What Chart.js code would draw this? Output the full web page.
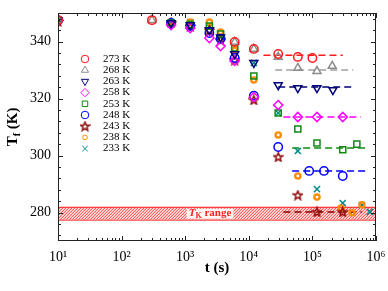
<!DOCTYPE html>
<html>
<head>
<meta charset="utf-8">
<script src="https://cdn.jsdelivr.net/npm/chart.js@4.4.0/dist/chart.umd.min.js"></script>
<style>
  html, body { margin: 0; padding: 0; background: #fff; }
  #wrap { width: 388px; height: 291px; }
</style>
</head>
<body>
<div id="wrap"><canvas id="c"></canvas></div>
<script>
/* Tf vs t — quench series with plateau lines and TK band. */
const seriesLabels = ["273 K", "268 K", "263 K", "258 K", "253 K", "248 K", "243 K", "238 K", "233 K"];

const t273 = [10, 300, 6000, 12000, 29000, 59000, 100000];
const f273 = [347.5, 347.5, 339.8, 337.4, 335.6, 334.6, 334.2];
const t268 = [10, 300, 6000, 12000, 29000, 59000, 118000, 205000];
const f268 = [347.5, 347.5, 339.8, 337.4, 334.6, 330.7, 329.6, 331.4];
const t263 = [10, 600, 1200, 2400, 3600, 6000, 12000, 29000, 59000, 118000, 210000];
const f263 = [347.5, 346.5, 345.8, 344, 341.5, 335.6, 332.5, 324.7, 323.7, 323.7, 323];
const t258 = [10, 600, 1200, 2400, 3600, 6000, 12000, 29000, 59000, 118000, 300000];
const f258 = [347.5, 345.8, 344.7, 341.2, 338.4, 333.2, 320.5, 317.7, 313.5, 313.5, 313.5];
const t253 = [10, 600, 1200, 2400, 3600, 6000, 12000, 29000, 59000, 118000, 300000, 500000];
const f253 = [347.5, 346.5, 346, 345.4, 342.6, 337.7, 327.9, 314.9, 309.3, 304.4, 302, 304];
const t248 = [10, 600, 1200, 2400, 3600, 6000, 12000, 29000, 89000, 152000, 300000];
const f248 = [347.5, 346.5, 345.5, 343, 341, 334.2, 321, 303, 294.6, 294.6, 292.8];
const t243 = [10, 600, 1200, 2400, 3600, 6000, 12000, 29000, 59000, 118000, 300000];
const f243 = [347, 346.5, 345.3, 344, 340.5, 333.5, 319.5, 299.5, 286.1, 280.2, 280.2];
const t238 = [10, 600, 1200, 2400, 3600, 6000, 12000, 29000, 59000, 118000, 282000, 420000, 600000];
const f238 = [347.5, 346.8, 346.8, 346.8, 343.3, 337, 326.5, 307.2, 292.8, 285.4, 281.6, 279.9, 282.7];
const t233 = [10, 600, 1200, 2400, 3600, 6000, 12000, 29000, 59000, 118000, 300000, 600000, 800000];
const f233 = [347.5, 346.5, 346.8, 345.2, 341.9, 336.3, 332.5, 314.9, 301.6, 288.2, 283.3, 282.6, 280.2];

// plateau (dashed) lines for the first seven series
const plateauTf    = [335.2, 330, 324, 313.5, 302.6, 294.6, 280.2];
const plateauStart = [17000, 26000, 29000, 35000, 48000, 48000, 35000];
const plateauEnd   = [300000, 440000, 470000, 580000, 740000, 760000, 600000];

const bandLow = 277.5, bandHigh = 282;
const yTicks = [280, 300, 320, 340];
const xDecades = [1, 2, 3, 4, 5, 6];

const SERIF = "'Liberation Serif', 'Times New Roman', serif";
const colors = ["#ff1a1a", "#8c8c8c", "#00007a", "#ff00ff", "#118a11", "#0000ff", "#8b0000", "#ff8c00", "#008b8b"];

function starImage(color) {
  const c = document.createElement("canvas");
  c.width = 11; c.height = 11;
  const g = c.getContext("2d");
  g.strokeStyle = color; g.lineWidth = 1.4;
  g.beginPath();
  for (let i = 0; i < 10; i++) {
    const r = i % 2 ? 2.0 : 4.6;
    const a = -Math.PI / 2 + i * Math.PI / 5;
    const x = 5.5 + r * Math.cos(a), y = 5.9 + r * Math.sin(a);
    i ? g.lineTo(x, y) : g.moveTo(x, y);
  }
  g.closePath(); g.stroke();
  return c;
}

const styles = [
  { pointStyle: "circle",   radius: 4.2, rotation: 0 },
  { pointStyle: "triangle", radius: 4.6, rotation: 0 },
  { pointStyle: "triangle", radius: 4.6, rotation: 180 },
  { pointStyle: "rectRot",  radius: 4.6, rotation: 0 },
  { pointStyle: "rect",     radius: 4.3, rotation: 0 },
  { pointStyle: "circle",   radius: 4.2, rotation: 0 },
  { pointStyle: starImage(colors[6]), radius: 5, rotation: 0 },
  { pointStyle: "circle",   radius: 2.6, rotation: 0 },
  { pointStyle: "crossRot", radius: 4.3, rotation: 0 }
];

const tArr = [t273, t268, t263, t258, t253, t248, t243, t238, t233];
const fArr = [f273, f268, f263, f258, f253, f248, f243, f238, f233];

const datasets = [];
seriesLabels.forEach((lab, i) => {
  datasets.push({
    label: lab,
    data: tArr[i].map((t, k) => ({ x: t, y: fArr[i][k] })),
    showLine: false,
    borderColor: colors[i],
    backgroundColor: "rgba(0,0,0,0)",
    pointStyle: styles[i].pointStyle,
    pointRadius: styles[i].radius,
    pointRotation: styles[i].rotation,
    pointBorderWidth: i === 7 ? 2.4 : 1.5,
    order: 1
  });
});
plateauTf.forEach((v, i) => {
  datasets.push({
    label: "plateau " + seriesLabels[i],
    data: [{ x: plateauStart[i], y: v }, { x: plateauEnd[i], y: v }],
    showLine: true,
    borderColor: i === 1 ? "#a0a0a0" : colors[i],
    borderWidth: 1.5,
    borderDash: [7, 4],
    pointRadius: 0,
    order: 2
  });
});

const decor = {
  id: "decor",
  beforeDatasetsDraw(chart) {
    const { ctx, chartArea: a, scales: { y } } = chart;
    const yt = y.getPixelForValue(bandHigh), yb = y.getPixelForValue(bandLow);
    ctx.save();
    ctx.fillStyle = "rgba(255,120,120,0.25)";
    ctx.fillRect(a.left, yt, a.right - a.left, yb - yt);
    ctx.beginPath();
    ctx.rect(a.left, yt, a.right - a.left, yb - yt);
    ctx.clip();
    ctx.strokeStyle = "#ff3030"; ctx.lineWidth = 0.9;
    ctx.beginPath();
    const h = yb - yt;
    for (let x0 = a.left - h; x0 < a.right + h; x0 += 3) {
      ctx.moveTo(x0, yb); ctx.lineTo(x0 + h, yt);
    }
    ctx.stroke();
    ctx.restore();
    ctx.save();
    ctx.strokeStyle = "#ff2020"; ctx.lineWidth = 1;
    ctx.strokeRect(a.left + 0.5, yt + 0.5, a.right - a.left - 1, h);
    // band label
    const cx = 210, cy = (yt + yb) / 2;
    ctx.font = "italic bold 11px " + SERIF;
    const wT = ctx.measureText("T").width;
    ctx.font = "bold 8px " + SERIF;
    const wK = ctx.measureText("K").width;
    ctx.font = "bold 11px " + SERIF;
    const wR = ctx.measureText(" range").width;
    const w = wT + wK + wR;
    ctx.fillStyle = "rgba(255,255,255,0.9)";
    ctx.fillRect(cx - w / 2 - 2, yt + 2, w + 4, h - 3);
    ctx.fillStyle = "#ff2020"; ctx.textBaseline = "middle"; ctx.textAlign = "left";
    let px = cx - w / 2;
    ctx.font = "italic bold 11px " + SERIF; ctx.fillText("T", px, cy); px += wT;
    ctx.font = "bold 8px " + SERIF; ctx.fillText("K", px, cy + 3); px += wK;
    ctx.font = "bold 11px " + SERIF; ctx.fillText(" range", px, cy);
    ctx.restore();
  },
  afterDraw(chart) {
    const { ctx, chartArea: a, scales: { x, y } } = chart;
    ctx.save();
    ctx.strokeStyle = "#222"; ctx.lineWidth = 1;
    ctx.strokeRect(a.left + 0.5, a.top + 0.5, a.right - a.left - 1, a.bottom - a.top - 1);
    ctx.beginPath();
    // x ticks (bottom & top, inward)
    for (let e = 1; e <= 6; e++) {
      for (let m = 1; m <= 9; m++) {
        const v = m * Math.pow(10, e);
        if (v > 1e6) break;
        const px = Math.round(x.getPixelForValue(v)) + 0.5;
        const len = m === 1 ? 5 : 3;
        ctx.moveTo(px, a.bottom); ctx.lineTo(px, a.bottom - len);
        ctx.moveTo(px, a.top); ctx.lineTo(px, a.top + len);
      }
    }
    // y ticks (left & right, inward), minor every 4 K
    for (let v = 272; v <= 348; v += 4) {
      const py = Math.round(y.getPixelForValue(v)) + 0.5;
      const len = v % 20 === 0 ? 5 : 3;
      ctx.moveTo(a.left, py); ctx.lineTo(a.left + len, py);
      ctx.moveTo(a.right, py); ctx.lineTo(a.right - len, py);
    }
    ctx.stroke();

    // axis titles
    ctx.fillStyle = "#000"; ctx.textBaseline = "middle";
    ctx.font = "bold 15px " + SERIF; ctx.textAlign = "center";
    ctx.fillText("t (s)", (a.left + a.right) / 2, 268);
    ctx.translate(13, (a.top + a.bottom) / 2);
    ctx.rotate(-Math.PI / 2);
    ctx.font = "bold 15px " + SERIF;
    const w1 = ctx.measureText("T").width;
    ctx.font = "bold 10px " + SERIF;
    const w2 = ctx.measureText("f").width;
    ctx.font = "bold 15px " + SERIF;
    const w3 = ctx.measureText(" (K)").width;
    let px = -(w1 + w2 + w3) / 2;
    ctx.textAlign = "left";
    ctx.fillText("T", px, 0); px += w1;
    ctx.font = "bold 10px " + SERIF; ctx.fillText("f", px, 4); px += w2;
    ctx.font = "bold 15px " + SERIF; ctx.fillText(" (K)", px, 0);
    ctx.setTransform(1, 0, 0, 1, 0, 0);

    // legend
    const dp = Chart.helpers && Chart.helpers.drawPoint;
    seriesLabels.forEach((lab, i) => {
      const ly = 59 + i * 11.2;
      ctx.strokeStyle = colors[i]; ctx.fillStyle = "rgba(0,0,0,0)";
      if (dp) dp(ctx, { pointStyle: styles[i].pointStyle, radius: styles[i].radius * 0.9,
        rotation: styles[i].rotation, borderWidth: i === 7 ? 2.2 : 1.5 }, 85, ly);
      ctx.fillStyle = "#000"; ctx.font = "11px " + SERIF;
      ctx.textAlign = "left"; ctx.textBaseline = "middle";
      ctx.fillText(lab, 103, ly);
    });
    ctx.restore();
  }
};

const sup = ["\u2070", "\u00B9", "\u00B2", "\u00B3", "\u2074", "\u2075", "\u2076"];

new Chart(document.getElementById("c"), {
  type: "scatter",
  data: { datasets },
  options: {
    responsive: true,
    maintainAspectRatio: false,
    animation: false,
    layout: { padding: { top: 13, right: 12, left: 0, bottom: 0 } },
    plugins: { legend: { display: false }, tooltip: { enabled: false } },
    scales: {
      x: {
        type: "logarithmic", min: 10, max: 1e6,
        grid: { display: false, drawTicks: false }, border: { display: false },
        afterBuildTicks: s => { s.ticks = xDecades.map(e => ({ value: Math.pow(10, e) })); },
        afterFit: s => { s.height = 50; s.paddingLeft = 0; s.paddingRight = 0; },
        ticks: {
          autoSkip: false, maxRotation: 0, padding: 8, color: "#000",
          font: { family: SERIF, size: 14 },
          callback: v => "10" + sup[Math.round(Math.log10(v))]
        }
      },
      y: {
        min: 270, max: 350,
        grid: { display: false, drawTicks: false }, border: { display: false },
        afterBuildTicks: s => { s.ticks = yTicks.map(v => ({ value: v })); },
        afterFit: s => { s.width = 58; s.paddingTop = 0; s.paddingBottom = 0; },
        ticks: { padding: 7, color: "#000", font: { family: SERIF, size: 14 } }
      }
    }
  },
  plugins: [decor]
});
</script>
</body>
</html>
